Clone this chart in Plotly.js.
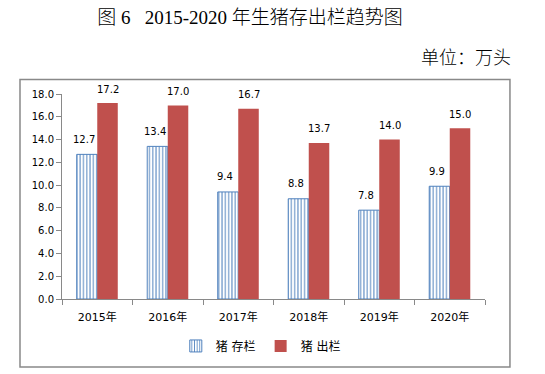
<!DOCTYPE html>
<html>
<head>
<meta charset="utf-8">
<script src="https://cdn.plot.ly/plotly-3.0.1.min.js"></script>
<style>html,body{margin:0;padding:0;background:#fff;}#chart{width:545px;height:374px;}</style>
</head>
<body>
<div id="chart"></div>
<script>
var categories = ['2015年', '2016年', '2017年', '2018年', '2019年', '2020年'];
var stockValues = [12.7, 13.4, 9.4, 8.8, 7.8, 9.9];
var slaughterValues = [17.2, 17.0, 16.7, 13.7, 14.0, 15.0];
var seriesNames = ['猪 存栏', '猪 出栏'];
var yTickValues = [0, 2, 4, 6, 8, 10, 12, 14, 16, 18];

var blue = '#4f81bd';
var red = '#c0504d';
var gray = '#898989';
var sans = 'DejaVu Sans, Noto Sans CJK SC, sans-serif';
var cjk = 'Liberation Serif, Noto Sans CJK SC, serif';

var traces = [
  {
    type: 'bar', name: seriesNames[0], x: categories, y: stockValues,
    marker: {
      color: '#ffffff',
      line: {color: blue, width: 1},
      pattern: {shape: '|', fgcolor: blue, bgcolor: '#ffffff', size: 3.3, solidity: 0.3}
    },
    hoverinfo: 'none'
  },
  {
    type: 'bar', name: seriesNames[1], x: categories, y: slaughterValues,
    marker: {color: red, line: {width: 0}},
    hoverinfo: 'none'
  }
];

var annotations = [];
categories.forEach(function (c, i) {
  annotations.push({
    x: c, y: stockValues[i], xref: 'x', yref: 'y', text: stockValues[i].toFixed(1),
    showarrow: false, xshift: -13, yshift: 15, yanchor: 'middle',
    font: {family: sans, size: 10, color: '#000'}
  });
  annotations.push({
    x: c, y: slaughterValues[i], xref: 'x', yref: 'y', text: slaughterValues[i].toFixed(1),
    showarrow: false, xshift: 10.5, yshift: 14, yanchor: 'middle',
    font: {family: sans, size: 10, color: '#000'}
  });
});
annotations.push({
  xref: 'paper', yref: 'paper', x: 1.066, y: 1.1756, xanchor: 'right', yanchor: 'middle',
  text: '单位：万头', showarrow: false, font: {family: cjk, size: 18, color: '#000', weight: 300}
});

var layout = {
  width: 545, height: 374,
  margin: {l: 62, r: 60, t: 94, b: 75},
  paper_bgcolor: '#ffffff', plot_bgcolor: '#ffffff',
  title: {
    text: '图 6\u00a0\u00a0 2015-2020 年生猪存出栏趋势图',
    x: 250 / 545, xanchor: 'center', xref: 'container',
    y: 1 - 17 / 374, yanchor: 'middle', yref: 'container',
    font: {family: cjk, size: 19, color: '#000', weight: 300}
  },
  barmode: 'group', bargap: 0.418, bargroupgap: 0,
  showlegend: true,
  legend: {
    orientation: 'h', x: 0.47, xanchor: 'center', y: -0.229, yanchor: 'middle',
    font: {family: sans, size: 12, color: '#000'}, traceorder: 'normal', itemwidth: 30
  },
  xaxis: {
    type: 'category', showgrid: false, zeroline: false,
    showline: true, linecolor: gray, linewidth: 1,
    ticks: 'outside', tickson: 'boundaries', ticklen: 5, tickcolor: gray,
    ticklabelstandoff: 8,
    tickfont: {family: sans, size: 11, color: '#000'}, fixedrange: true
  },
  yaxis: {
    range: [0, 18], tickvals: yTickValues, tickformat: '.1f',
    showgrid: false, zeroline: false,
    showline: true, linecolor: gray, linewidth: 1,
    ticks: 'outside', ticklen: 5, tickcolor: gray,
    tickfont: {family: sans, size: 10, color: '#000'}, fixedrange: true
  },
  shapes: [{
    type: 'rect', xref: 'paper', yref: 'paper',
    x0: -0.0993, x1: 1.059, y0: -0.3317, y1: 1.0707,
    line: {color: gray, width: 1.5}, fillcolor: 'rgba(0,0,0,0)', layer: 'below'
  }],
  annotations: annotations
};

Plotly.newPlot('chart', traces, layout, {staticPlot: true, displayModeBar: false});
</script>
</body>
</html>
